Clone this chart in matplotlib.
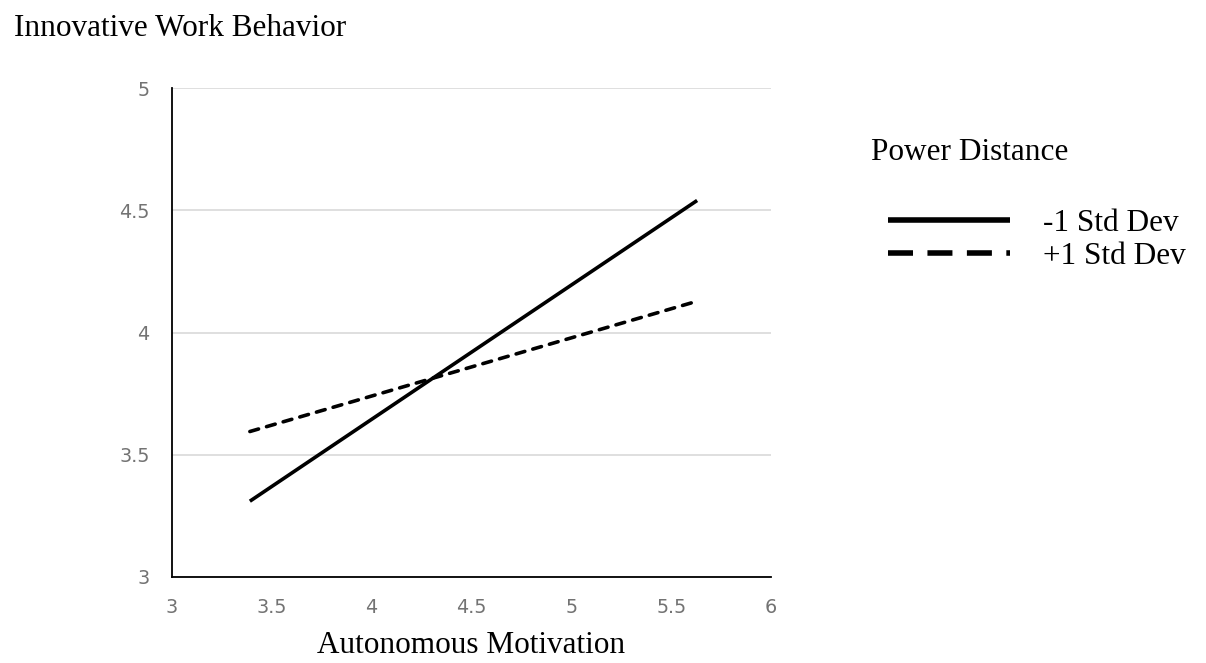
import matplotlib
matplotlib.use("Agg")
import matplotlib.pyplot as plt

# Data
x_vals = [3.39, 5.63]
low_pd = [3.31, 4.54]   # -1 Std Dev
high_pd = [3.595, 4.128]  # +1 Std Dev
series_labels = ["-1 Std Dev", "+1 Std Dev"]
x_ticks = [3, 3.5, 4, 4.5, 5, 5.5, 6]
y_ticks = [3, 3.5, 4, 4.5, 5]
x_tick_labels = ["3", "3.5", "4", "4.5", "5", "5.5", "6"]
y_tick_labels = ["3", "3.5", "4", "4.5", "5"]

serif = "Liberation Serif"
tick_font = "DejaVu Sans"

fig = plt.figure(figsize=(12.06, 6.63), dpi=100)
ax = fig.add_axes([172/1206, 1-577/663, (771-172)/1206, (577-88)/663])

lw = 2.6
ax.plot(x_vals, low_pd, color="black", lw=lw, solid_capstyle="butt", label=series_labels[0])
ax.plot(x_vals, high_pd, color="black", lw=lw, linestyle=(0, (2.5, 2.3)), dash_capstyle="round",
        label=series_labels[1])

ax.set_xlim(3, 6)
ax.set_ylim(3, 5)
ax.set_xticks(x_ticks)
ax.set_xticklabels(x_tick_labels)
ax.set_yticks(y_ticks)
ax.set_yticklabels(y_tick_labels)
ax.tick_params(axis="both", length=0, labelsize=13.8, labelcolor="#737373")
ax.tick_params(axis="y", pad=16)
ax.tick_params(axis="x", pad=15)
for lab in ax.get_xticklabels() + ax.get_yticklabels():
    lab.set_family(tick_font)

ax.grid(axis="y", color="#d9d9d9", lw=1.2)
ax.set_axisbelow(True)
for s in ["top", "right"]:
    ax.spines[s].set_visible(False)
for s in ["left", "bottom"]:
    ax.spines[s].set_color("black")
    ax.spines[s].set_linewidth(1.3)

ax.set_xlabel("Autonomous Motivation", family=serif, fontsize=22.5, labelpad=10)

fig.text(14/1206, 1-29/663, "Innovative Work Behavior", family=serif, fontsize=22.5,
         ha="left", va="center")
fig.text(871/1206, 1-152/663, "Power Distance", family=serif, fontsize=22.5,
         ha="left", va="center")

leg = ax.legend(loc="upper left", bbox_to_anchor=(875.5/1206, 1-196/663),
                bbox_transform=fig.transFigure, frameon=False,
                prop={"family": serif, "size": 22.5}, handlelength=3.9,
                handletextpad=1.05, labelspacing=0.15, borderaxespad=0)
for h in leg.get_lines():
    h.set_linewidth(4.0)
leg.get_lines()[1].set_linestyle((0, (4.5, 2.6)))
leg.get_lines()[1].set_dash_capstyle("butt")

fig.savefig("out.png", dpi=100)
